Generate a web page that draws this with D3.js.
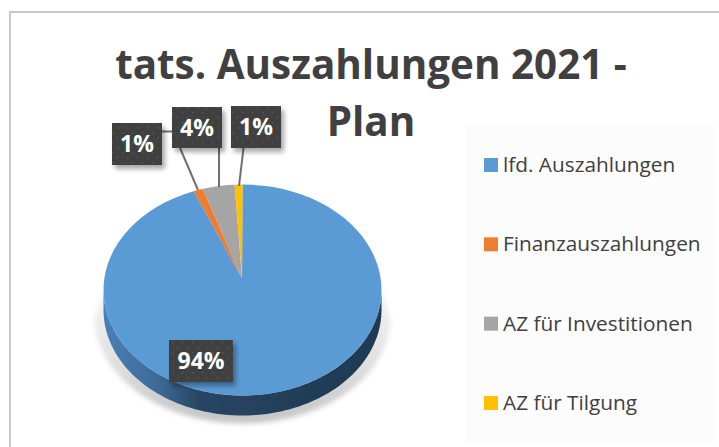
<!DOCTYPE html>
<html><head><meta charset="utf-8">
<script src="https://cdn.jsdelivr.net/npm/d3@7"></script>
<style>html,body{margin:0;padding:0;background:#fff;overflow:hidden}svg{display:block}text{font-family:"Open Sans",sans-serif}</style>
</head><body><div id="c"></div>
<script>
const categories = ["lfd. Auszahlungen","Finanzauszahlungen","AZ für Investitionen","AZ für Tilgung"];
const values = [94.3,1.1,3.7,0.9];
const colors = ["#5b9bd5","#ed7d31","#a5a5a5","#ffc000"];
const titleLines = ["tats. Auszahlungen 2021 -","Plan"];
const W=719,H=447;
const svg=d3.select("#c").append("svg").attr("width",W).attr("height",H);
const defs=svg.append("defs");
const blur=(id,s)=>defs.append("filter").attr("id",id).attr("x","-30%").attr("y","-30%").attr("width","160%").attr("height","160%").append("feGaussianBlur").attr("stdDeviation",s);
blur("sh",2.5);blur("lsh",2.5);
const g=defs.append("linearGradient").attr("id","side").attr("x1",0).attr("x2",1).attr("y1",0).attr("y2",0);
[[0,"#4a80b6"],[.2,"#3c6a97"],[.34,"#274665"],[.7,"#223d58"],[1,"#1f3a54"]].forEach(s=>g.append("stop").attr("offset",s[0]).attr("stop-color",s[1]));
const sg=defs.append("linearGradient").attr("id","shade").attr("x1",0).attr("x2",0).attr("y1",0).attr("y2",1);
[[0,"#f4f4f4"],[.5,"#e2e2e2"],[1,"#c4c4c4"]].forEach(s=>sg.append("stop").attr("offset",s[0]).attr("stop-color",s[1]));
const pat=defs.append("pattern").attr("id","dots").attr("width",10).attr("height",10).attr("patternUnits","userSpaceOnUse");
pat.append("rect").attr("width",10).attr("height",10).attr("fill","#404040");
pat.append("rect").attr("x",2).attr("y",2).attr("width",1.5).attr("height",1.5).attr("fill","#565656");
pat.append("rect").attr("x",7).attr("y",7).attr("width",1.5).attr("height",1.5).attr("fill","#565656");
const line=d3.line();

// frame (only top and left edges fall inside the picture) + legend panel
svg.append("path").attr("d",line([[10,H],[10,12],[W,12]])).attr("fill","none").attr("stroke","#c8c8c8").attr("stroke-width",2);
svg.append("rect").attr("x",466).attr("y",124).attr("width",250).attr("height",319).attr("fill","#fcfcfc");

// title
svg.append("g").selectAll("text").data(titleLines).join("text")
 .attr("x",371).attr("y",(d,i)=>79+i*57).attr("text-anchor","middle")
 .attr("font-size",40.4).attr("font-weight",700).attr("fill","#404040").text(d=>d);

// pie
const cx=242.5,cy=290,rx=139,ry=105.5,depth=20,ax=242,ay=278;
const pie=d3.pie().sort(null).value(d=>d);
const arcs=pie(values);
const P=a=>[cx+rx*Math.sin(a),cy-ry*Math.cos(a)];
const sample=(a0,a1)=>d3.range(0,81).map(i=>P(a0+(a1-a0)*i/80));
// shadow
const lower=d3.range(90,-91,-3).map(t=>{const a=Math.PI+t*Math.PI/180;return [cx+(rx+9)*Math.sin(a),cy+depth+7-(ry+1)*Math.cos(a)];});
svg.append("path").attr("d",line([[cx-rx,cy],...lower,[cx+rx,cy]])+"Z").attr("fill","url(#shade)").attr("filter","url(#sh)");
// side
const lo=d3.range(90,271,2).map(t=>{const a=t*Math.PI/180;return [cx+rx*Math.sin(a),cy+depth-ry*Math.cos(a)];});
const up=d3.range(270,89,-2).map(t=>P(t*Math.PI/180));
svg.append("path").attr("d",line([...lo,...up])+"Z").attr("fill","url(#side)");
// slices
svg.append("g").selectAll("path").data(arcs).join("path")
 .attr("d",d=>line([[ax,ay],...sample(d.startAngle,d.endAngle)])+"Z")
 .attr("fill",(d,i)=>colors[i]);
// leader lines + labels
const labelBoxes=[[169,340,64,42],[112,123,50,42],[172,107,50,41],[231,106,50,42]];
svg.append("g").selectAll("path").data([
  [[162,131.5],[172,131.5]],[[180,148],[198,190]],[[219,148],[219,187]],[[243.5,148],[239,186]]
]).join("path").attr("d",d=>line(d)).attr("stroke","#6f6f6f").attr("stroke-width",2).attr("fill","none");
const order=[1,2,3,0];
const lab=svg.append("g").selectAll("g").data(order).join("g");
lab.append("rect").attr("x",i=>labelBoxes[i][0]+3).attr("y",i=>labelBoxes[i][1]+4).attr("width",i=>labelBoxes[i][2]).attr("height",i=>labelBoxes[i][3]).attr("fill","#000").attr("opacity",.35).attr("filter","url(#lsh)");
lab.append("rect").attr("x",i=>labelBoxes[i][0]).attr("y",i=>labelBoxes[i][1]).attr("width",i=>labelBoxes[i][2]).attr("height",i=>labelBoxes[i][3]).attr("fill","url(#dots)");
lab.append("text").attr("x",i=>labelBoxes[i][0]+labelBoxes[i][2]/2).attr("y",i=>labelBoxes[i][1]+labelBoxes[i][3]/2+8)
 .attr("text-anchor","middle").attr("font-size",23).attr("font-weight",700).attr("fill","#fff").text(i=>Math.round(values[i])+"%");

// legend
const y=d3.scalePoint().domain(categories).range([165,403]);
const leg=svg.append("g").selectAll("g").data(categories).join("g").attr("transform",d=>`translate(484,${y(d)})`);
leg.append("rect").attr("x",0).attr("y",-7).attr("width",14).attr("height",14).attr("fill",(d,i)=>colors[i]);
leg.append("text").attr("x",19).attr("y",7).attr("font-size",20.8).attr("fill","#404040").text(d=>d);
</script></body></html>
